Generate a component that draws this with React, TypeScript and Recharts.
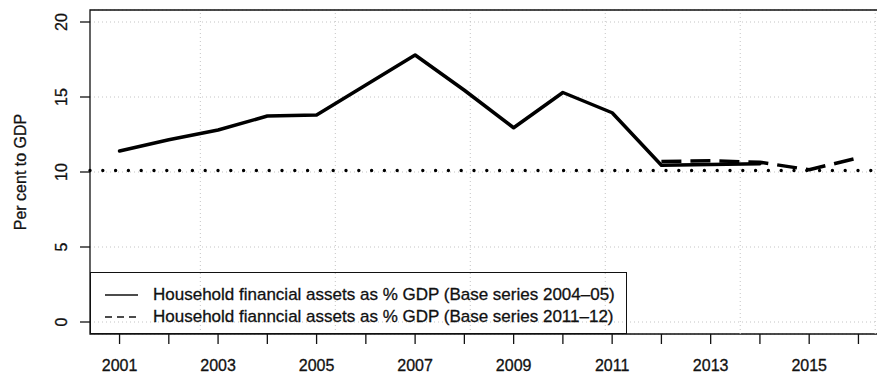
import React from "react";
import {
  LineChart,
  Line,
  XAxis,
  YAxis,
  CartesianGrid,
  ReferenceLine,
  ReferenceArea,
  Legend,
} from "recharts";

const years = [
  2001, 2002, 2003, 2004, 2005, 2006, 2007, 2008, 2009, 2010, 2011, 2012, 2013,
  2014, 2015, 2016,
];
const base0405 = [
  11.4, 12.15, 12.8, 13.73, 13.8, 15.8, 17.8, 15.45, 12.95, 15.3, 13.95, 10.45,
  10.5, 10.55, null, null,
];
const base1112 = [
  null, null, null, null, null, null, null, null, null, null, null, 10.7, 10.75,
  10.65, 10.15, 10.95,
];
const dottedLevel = 10.1;
const yTicks = [0, 5, 10, 15, 20];
const xLabelYears = [2001, 2003, 2005, 2007, 2009, 2011, 2013, 2015];
const gridYears = [2002.64, 2005.38, 2008.12, 2010.86, 2013.6, 2016.34];
const seriesNames = [
  "Household financial assets as % GDP (Base series 2004\u201305)",
  "Household fianncial assets as % GDP (Base series 2011\u201312)",
];

const data = years.map((year, i) => ({
  year,
  base0405: base0405[i],
  base1112: base1112[i],
}));

const FONT = "'Liberation Sans', Arial, Helvetica, sans-serif";
const INK = "#111";
const GRID = "#c4c4c4";

// a thin outline makes the text a bit heavier, like the scanned original
const textInk = { fill: INK, stroke: INK, strokeWidth: 0.3 };

function XTick({ x, y, payload }: any) {
  if (!xLabelYears.includes(payload.value)) return null;
  return (
    <text x={x} y={y + 25} textAnchor="middle" fontSize={16} fontFamily={FONT} {...textInk}>
      {payload.value}
    </text>
  );
}

function YTick({ x, y, payload }: any) {
  const bx = x - 11;
  return (
    <text
      x={bx}
      y={y}
      transform={`rotate(-90, ${bx}, ${y})`}
      textAnchor="middle"
      fontSize={16}
      fontFamily={FONT}
      {...textInk}
    >
      {payload.value}
    </text>
  );
}

function YLabel({ viewBox }: any) {
  const cx = 26;
  const cy = viewBox.y + viewBox.height / 2;
  return (
    <text
      x={cx}
      y={cy}
      transform={`rotate(-90, ${cx}, ${cy})`}
      textAnchor="middle"
      fontSize={16}
      fontFamily={FONT}
      {...textInk}
    >
      Per cent to GDP
    </text>
  );
}

function LegendBox() {
  const dashes = [undefined, "7 5"];
  return (
    <div
      style={{
        boxSizing: "border-box",
        width: 537,
        height: 62,
        border: `1.3px solid ${INK}`,
        fontFamily: FONT,
        fontSize: 17,
        color: INK,
        WebkitTextStroke: `0.3px ${INK}`,
        paddingTop: 11,
      }}
    >
      {seriesNames.map((name, i) => (
        <div key={name} style={{ display: "flex", alignItems: "center", height: 22 }}>
          <svg width={62} height={22}>
            <line
              x1={14}
              x2={47}
              y1={11}
              y2={11}
              stroke={INK}
              strokeWidth={1.6}
              strokeDasharray={dashes[i]}
            />
          </svg>
          <span style={{ whiteSpace: "nowrap" }}>{name}</span>
        </div>
      ))}
    </div>
  );
}

export default function App() {
  return (
    <div
      style={{
        position: "absolute",
        left: 0,
        top: 0,
        width: 877,
        height: 375,
        overflow: "hidden",
        background: "#fff",
      }}
    >
      <LineChart
        width={900}
        height={375}
        data={data}
        margin={{ top: 10, right: 12, left: 0, bottom: 0 }}
      >
        <CartesianGrid vertical={false} stroke={GRID} strokeDasharray="1 3" />
        {gridYears.map((g) => (
          <ReferenceLine key={g} x={g} stroke={GRID} strokeDasharray="1 3" />
        ))}
        <XAxis
          dataKey="year"
          type="number"
          domain={[2000.4, 2016.6]}
          ticks={years}
          interval={0}
          tickSize={10}
          axisLine={false}
          tickLine={{ stroke: INK, strokeWidth: 1.3 }}
          tick={<XTick />}
          height={41}
        />
        <YAxis
          type="number"
          domain={[-0.8, 20.8]}
          ticks={yTicks}
          interval={0}
          tickSize={10}
          axisLine={false}
          tickLine={{ stroke: INK, strokeWidth: 1.3 }}
          tick={<YTick />}
          width={90}
          label={<YLabel />}
        />
        <ReferenceArea
          x1={2000.4}
          x2={2016.6}
          y1={-0.8}
          y2={20.8}
          fill="none"
          stroke={INK}
          strokeWidth={1.3}
          ifOverflow="visible"
        />
        <ReferenceLine
          y={dottedLevel}
          stroke="#000"
          strokeWidth={3.4}
          strokeDasharray="0 12.8"
          strokeLinecap="round"
        />
        <Line
          type="linear"
          dataKey="base0405"
          name={seriesNames[0]}
          stroke="#000"
          strokeWidth={3.5}
          strokeLinejoin="round"
          strokeLinecap="round"
          dot={false}
          isAnimationActive={false}
        />
        <Line
          type="linear"
          dataKey="base1112"
          name={seriesNames[1]}
          stroke="#000"
          strokeWidth={3.5}
          strokeDasharray="20 9"
          strokeLinejoin="round"
          dot={false}
          isAnimationActive={false}
        />
        <Legend
          layout="vertical"
          align="center"
          verticalAlign="middle"
          content={() => <LegendBox />}
          wrapperStyle={{ left: 90, top: 272, width: 537, height: 62 }}
        />
      </LineChart>
    </div>
  );
}
